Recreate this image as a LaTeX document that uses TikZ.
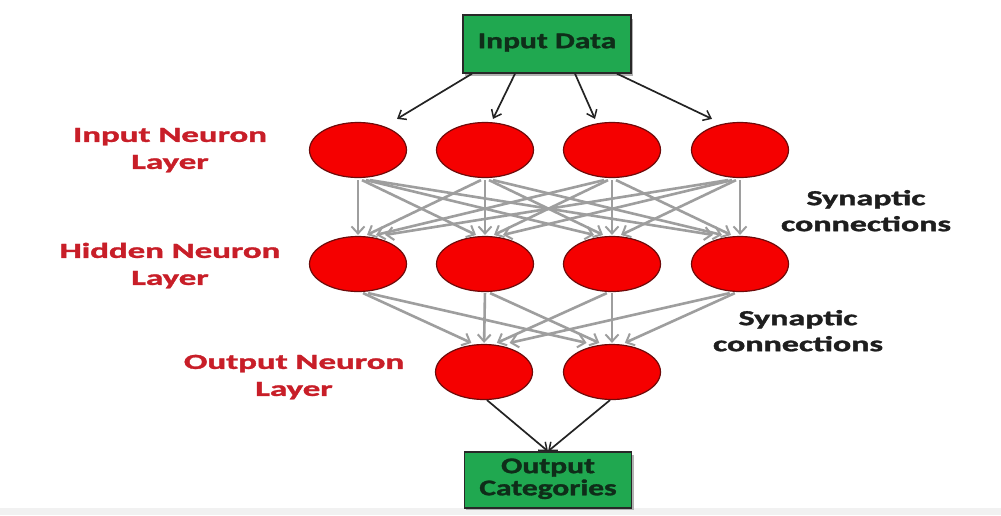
\documentclass[tikz,border=0pt]{standalone}
\usepackage{fontspec}
\usepackage{graphicx}
\setmainfont{Carlito}
\newfontfamily\heavy{Carlito Bold}[FakeBold=1.3]
\usetikzlibrary{shapes.geometric,arrows.meta,calc}

\definecolor{neuronfill}{RGB}{245,0,0}
\definecolor{neuronline}{RGB}{110,10,10}
\definecolor{boxfill}{RGB}{32,168,80}
\definecolor{boxline}{RGB}{40,40,40}
\definecolor{boxtext}{RGB}{15,45,25}
\definecolor{layertext}{RGB}{200,30,40}
\definecolor{syntext}{RGB}{30,30,30}
\definecolor{synline}{RGB}{158,158,158}
\definecolor{feedline}{RGB}{35,35,35}
\definecolor{baseband}{RGB}{241,241,241}

% horizontally widened, centred multi-line text
\newcommand\widetext[2]{\scalebox{#1}[1]{\begin{tabular}{@{}c@{}}#2\end{tabular}}}

\begin{document}
\begin{tikzpicture}[x=1pt,y=-1pt,
  neuron/.style={ellipse,draw=neuronline,line width=1.2pt,fill=neuronfill,
    minimum width=97pt,minimum height=55pt,inner sep=0pt},
  databox/.style={rectangle,draw=boxline,line width=1.4pt,fill=boxfill,
    inner sep=0pt,text=boxtext,font=\heavy\fontsize{22.5}{21}\selectfont},
  layerlabel/.style={inner sep=0pt,text=layertext,
    font=\heavy\fontsize{21.5}{27}\selectfont},
  synlabel/.style={inner sep=0pt,text=syntext,
    font=\heavy\fontsize{21.5}{26}\selectfont},
  synarrow/.style={draw=synline,line width=2.6pt,
    -{Straight Barb[length=7pt,width=13pt,line width=2pt]}},
  feedarrow/.style={draw=feedline,line width=1.7pt,
    -{Straight Barb[length=7pt,width=11pt,line width=1.5pt]}},
  shadowbox/.style={fill=black!30}]

% page and faint band along the bottom edge
\useasboundingbox (0,0) rectangle (1001,515);
\fill[white] (0,0) rectangle (1001,515);
\fill[baseband] (0,508) rectangle (1001,515);

% input and output boxes (with a soft offset shadow)
\fill[shadowbox] (465,19) rectangle (633,76);
\node[databox,minimum width=168pt,minimum height=58pt] (in) at (547,44)
  {\widetext{1.4}{Input Data}};
\fill[shadowbox] (466,455) rectangle (634,510);
\node[databox,minimum width=167pt,minimum height=56pt] (out) at (548,480)
  {\widetext{1.4}{Output\\Categories}};

% neurons
\foreach \k/\x in {1/358,2/485,3/612,4/740}{
  \node[neuron] (i\k) at (\x,150) {};
  \node[neuron] (h\k) at (\x,264) {};
}
\node[neuron] (o1) at (484,372) {};
\node[neuron] (o2) at (612,372) {};

% layer labels
\node[layerlabel] (lin) at (170,150) {\widetext{1.62}{Input Neuron\\Layer}};
\node[layerlabel] (lhid) at (170,266) {\widetext{1.62}{Hidden Neuron\\Layer}};
\node[layerlabel] (lout) at (294,377) {\widetext{1.62}{Output Neuron\\Layer}};
\node[synlabel] (syn1) at (866,213) {\widetext{1.58}{Synaptic\\connections}};
\node[synlabel] (syn2) at (798,333) {\widetext{1.58}{Synaptic\\connections}};

% input data feeding the input neurons
\draw[feedarrow] ($(in.south)+(-75,0)$) -- ($(i1.north)+(39,-3)$);
\draw[feedarrow] ($(in.south)+(-32,0)$) -- ($(i2.north)+(8,-3)$);
\draw[feedarrow] ($(in.south)+(28,0)$) -- ($(i3.north)+(-17,-3)$);
\draw[feedarrow] ($(in.south)+(70,0)$) -- ($(i4.north)+(-28,-3)$);

% synaptic connections: input layer to hidden layer
\foreach \s in {1,...,4}{
  \foreach \t in {1,...,4}{
    \draw[synarrow] ($(i\s.south)+({4*(\t-\s)},2)$) -- ($(h\t.north)+({9*(\s-\t)},-1)$);
  }
}

% synaptic connections: hidden layer to output layer
\foreach \s/\sx in {1/358,2/485,3/612,4/740}{
  \foreach \t/\tx in {1/484,2/612}{
    \draw[synarrow] ($(h\s.south)+({0.04*(\tx-\sx)},1)$) -- ($(o\t.north)+({0.1*(\sx-\tx)},-1)$);
  }
}

% output neurons into the output categories
\draw[feedarrow] ($(o1.south)+(3,0)$) -- (out.north);
\draw[feedarrow] ($(o2.south)+(-2,0)$) -- (out.north);
\end{tikzpicture}
\end{document}
